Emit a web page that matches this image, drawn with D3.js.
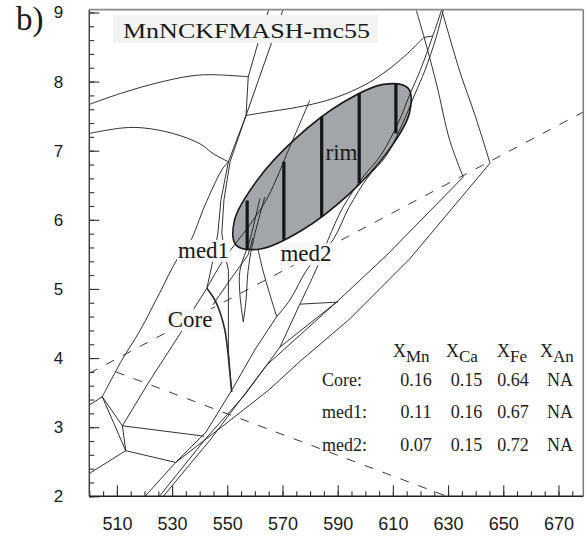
<!DOCTYPE html>
<html><head><meta charset="utf-8">
<script src="https://cdn.jsdelivr.net/npm/d3@7"></script>
<style>body{margin:0;background:#fff}svg{display:block}</style>
</head><body>
<svg id="c" width="588" height="539"></svg>
<script>
// ---- axis ticks ----
const xTicksMajor = [510,530,550,570,590,610,630,650,670];
const xTicksMinor = d3.range(500, 680, 5);
const yTicksMajor = [2,3,4,5,6,7,8,9];
const yTicksMinor = d3.range(2, 9.01, 0.2);

// ---- phase boundaries (T °C, P kbar) ----
const curveA = [[500,7.67],[512.2,7.84],[524.5,7.98],[536.5,8.08],[543.7,8.10],[557.6,8.07]];
const curveB = [[500,7.25],[512.2,7.33],[519.5,7.33],[530.3,7.25],[540.1,7.10],[544.8,6.96],[550.4,6.84]];
const curveC = [[556.8,7.51],[564.4,7.56],[572.7,7.61],[583.6,7.70],[592.7,7.82],[602.8,8.02],[612.6,8.31],[621.3,8.64]];
const lineD1 = [[565,9.04],[560.7,8.50],[557.6,8.07],[556.8,7.51],[550.4,6.84],[547.7,6.29],[546.6,5.81],[545.5,5.56],[544.3,5.32],[542.6,5.01],[538.3,4.74],[533.5,4.39],[522.0,3.68],[512.0,3.02]];
const lineD2 = [[570.2,9.04],[565.5,8.50],[556.8,7.51]];
const lineD3 = [[556.8,7.51],[551.0,6.84],[548.8,6.29],[548.0,5.81],[549.2,5.49],[550.4,5.27],[550.4,4.12],[551.0,3.80],[551.6,3.51]];
const lineF = [[550.4,6.84],[548.0,6.72],[541.9,6.21],[536.5,5.68],[531.7,5.42],[525.6,4.95],[518.4,4.40],[511.8,3.97],[504.7,3.44]];
const lowSeg1 = [[504.7,3.44],[500,3.32]];
const lowSeg2 = [[504.7,3.44],[512.0,3.02]];
const lowSeg3 = [[504.7,3.44],[513.2,2.66]];
const lowSeg4 = [[512.0,3.02],[513.2,2.66]];
const lowSeg5 = [[513.2,2.66],[500,2.33]];
const lowSeg6 = [[513.2,2.66],[531.3,2.49]];
const lowSeg7 = [[512.0,3.02],[541.6,2.87]];
const bund1 = [[567.9,4.60],[560.0,4.12],[551.7,3.54],[542.3,2.93],[531.3,2.49],[520.2,2.0]];
const bund2 = [[576.3,4.78],[569.1,4.16],[556.4,3.47],[542.3,2.84],[525.4,2.0]];
const bund3 = [[526.8,2.0],[543.7,2.81],[564.3,3.90],[589.6,4.81],[607.8,5.49],[635.5,6.62]];
const bund4 = [[531.3,2.49],[548.2,3.01],[565.1,3.54],[576.3,3.95],[594.5,4.57],[616.2,5.44],[645.2,6.82]];
const tie1 = [[576.3,4.78],[590.2,4.81]];
const tie2 = [[569.1,4.16],[589.6,4.81]];
const tang1 = [[627.7,9.04],[624.2,8.63],[619.9,8.16],[616.2,7.82],[611.9,7.40],[605.4,6.92],[599.2,6.62],[591.9,6.18],[586.5,5.71],[582.4,5.30],[576.3,4.78]];
const tang2 = [[628.3,9.04],[625.6,8.63],[621.6,8.16],[618.0,7.82],[613.6,7.40],[607.5,6.92],[601.0,6.62],[594.1,6.18],[588.3,5.71],[579.2,5.30],[572.7,4.84],[567.9,4.60]];
const lineLV = [[618.4,9.04],[621.6,8.60],[625.9,7.95],[630.6,7.15],[635.5,6.62]];
const lineRV = [[627.7,9.04],[634.3,8.14],[639.7,7.52],[645.2,6.82]];
const capSeg = [[621.3,8.64],[624.5,8.66]];
const dblCurve = [[542.6,5.01],[545.5,4.84],[547.3,4.67],[549.1,4.41],[550.2,4.09],[550.9,3.80],[551.6,3.51]];
const innerI3 = [[579.9,7.73],[572.7,7.06],[564.7,6.33],[558.2,5.93],[548.6,5.42],[542.6,5.01]];
const innerI4 = [[544.8,4.77],[551.0,5.13],[557.5,5.49],[559.3,5.74]];
const vLeft = [[561.8,6.31],[558.2,5.71],[554.6,5.27],[554.6,4.91],[555.8,4.52]];
const vRight = [[563.6,6.33],[559.3,5.68],[557.5,5.25],[556.8,4.84],[555.8,4.52]];
const mCurve = [[561.1,5.58],[562.9,5.27],[565.5,4.91],[567.9,4.60]];
const dash1 = [[500,3.78],[679,7.56]];
const dash2 = [[509.6,3.80],[629.6,2.0]];

// ---- rim ellipse & isopleth bars ----
const ellipsePts = [[615.5,7.905],[616.0,7.546],[608.0,6.979],[593.7,6.357],[576.9,5.845],[562.1,5.579],[553.2,5.634],[552.6,5.993],[560.6,6.560],[574.9,7.181],[591.7,7.693],[606.6,7.960]];
const rimBarT = [557.2,570.5,584.2,597.8,611.1];
const rimBarTop = [6.28,6.84,7.49,7.83,7.97];
const rimBarBot = [5.57,5.71,6.04,6.53,7.25];

// ---- labels ----
const labelText = ["med1","med2","Core","rim"];
const labelT = [541.4,578.5,536.5,591.4];
const labelP = [5.45,5.40,4.45,6.86];

// ---- table ----
const tableCols = ["Mn","Ca","Fe","An"];
const tableRows = ["Core:","med1:","med2:"];
const tableVals = [["0.16","0.15","0.64","NA"],["0.11","0.16","0.67","NA"],["0.07","0.15","0.72","NA"]];

const svg = d3.select("#c");
const x = d3.scaleLinear().domain([500,679]).range([89.3,583.3]);
const y = d3.scaleLinear().domain([2,9.04]).range([496.3,9.7]);
const serif = "'Liberation Serif','Times New Roman',serif";
const sans = "'Liberation Sans',Arial,sans-serif";

const defs = svg.append("defs");
defs.append("clipPath").attr("id","clip").append("rect")
  .attr("x",x(500)).attr("y",y(9.04)).attr("width",x(679)-x(500)).attr("height",y(2)-y(9.04));

const plot = svg.append("g").attr("clip-path","url(#clip)");
const line = d3.line().x(d=>x(d[0])).y(d=>y(d[1]));
const smooth = d3.line().x(d=>x(d[0])).y(d=>y(d[1])).curve(d3.curveCatmullRom.alpha(0.5));

// ellipse
plot.append("path").datum(ellipsePts)
  .attr("d", d3.line().x(d=>x(d[0])).y(d=>y(d[1])).curve(d3.curveCatmullRomClosed.alpha(0.5)))
  .attr("fill","#a2a5a9").attr("stroke","#1a1a1a").attr("stroke-width",1.6);

// dashed
[dash1,dash2].forEach(d=>plot.append("path").datum(d).attr("d",line)
  .attr("fill","none").attr("stroke","#222").attr("stroke-width",0.9).attr("stroke-dasharray","9,10"));

const smoothLines = [curveA,curveB,curveC,lineF,innerI3,vLeft,vRight,mCurve,lineLV,lineRV,tang1,tang2];
const straightLines = [lineD1,lineD2,lineD3,lowSeg1,lowSeg2,lowSeg3,lowSeg4,lowSeg5,lowSeg6,lowSeg7,bund1,bund2,bund3,bund4,tie1,tie2,capSeg,innerI4];
straightLines.forEach(d=>plot.append("path").datum(d).attr("d",line)
  .attr("fill","none").attr("stroke","#1c1c1c").attr("stroke-width",0.9));
smoothLines.forEach(d=>plot.append("path").datum(d).attr("d",smooth)
  .attr("fill","none").attr("stroke","#1c1c1c").attr("stroke-width",0.9));
// doubled boundary
plot.append("path").datum(dblCurve).attr("d",smooth)
  .attr("fill","none").attr("stroke","#2a2a2a").attr("stroke-width",1.6);

// rim bars
plot.selectAll(".bar").data(rimBarT).join("line")
  .attr("x1",d=>x(d)).attr("x2",d=>x(d))
  .attr("y1",(d,i)=>y(rimBarTop[i])).attr("y2",(d,i)=>y(rimBarBot[i]))
  .attr("stroke","#151515").attr("stroke-width",3.2);

// labels with boxes
labelText.forEach((t,i)=>{
  const g = svg.append("g");
  const tx = g.append("text").attr("x",x(labelT[i])).attr("y",y(labelP[i]))
    .attr("text-anchor","middle").attr("font-family",serif).attr("font-size",23)
    .attr("fill","#1a1a1a").text(t);
  if (t!=="rim") {
    const b = tx.node().getBBox();
    g.insert("rect","text").attr("x",b.x-1).attr("y",b.y+2).attr("width",b.width+2).attr("height",b.height-3)
      .attr("fill","#f7f8f7");
  }
});

// title
const tg = svg.append("g");
tg.append("rect").attr("x",113).attr("y",15).attr("width",265).attr("height",28).attr("fill","#f2f4f2");
tg.append("text").attr("x",123).attr("y",37.5).attr("font-family",serif).attr("font-size",22)
  .attr("textLength",247).attr("lengthAdjust","spacingAndGlyphs").attr("fill","#1a1a1a").text("MnNCKFMASH-mc55");

// panel letter
svg.append("text").attr("x",16).attr("y",30).attr("font-family",serif).attr("font-size",33).attr("fill","#1a1a1a").text("b)");

// table
const colX = [393,446,497,540];
const rowY = [385.5,418,451];
const valX = [416,466.5,513,560];
tableCols.forEach((c,i)=>{
  const t = svg.append("text").attr("x",colX[i]).attr("y",356.5).attr("font-family",serif).attr("font-size",18).attr("fill","#1a1a1a");
  t.append("tspan").text("X");
  t.append("tspan").attr("dy",5).attr("font-size",17).text(c);
});
tableRows.forEach((r,j)=>{
  svg.append("text").attr("x",322).attr("y",rowY[j]).attr("font-family",serif).attr("font-size",18).attr("fill","#222").text(r);
  tableVals[j].forEach((v,i)=>{
    svg.append("text").attr("x",valX[i]).attr("y",rowY[j]).attr("text-anchor","middle")
      .attr("font-family",serif).attr("font-size",18).attr("fill","#222").text(v);
  });
});

// axes
const axL1 = svg.append("g").attr("transform",`translate(${x(500)},0)`)
  .call(d3.axisLeft(y).tickValues(yTicksMinor).tickSize(-5).tickSizeOuter(0).tickFormat(""));
const axL2 = svg.append("g").attr("transform",`translate(${x(500)},0)`)
  .call(d3.axisLeft(y).tickValues(yTicksMajor).tickSize(-10).tickSizeOuter(0).tickPadding(26).tickFormat(d3.format("d")));
const axB1 = svg.append("g").attr("transform",`translate(0,${y(2)})`)
  .call(d3.axisBottom(x).tickValues(xTicksMinor).tickSize(-5).tickSizeOuter(0).tickFormat(""));
const axB2 = svg.append("g").attr("transform",`translate(0,${y(2)})`)
  .call(d3.axisBottom(x).tickValues(xTicksMajor).tickSize(-11).tickSizeOuter(0).tickPadding(21).tickFormat(d3.format("d")));
[axL1,axL2,axB1,axB2].forEach(a=>{
  a.select(".domain").remove();
  a.selectAll(".tick line").attr("stroke","#333").attr("stroke-width",1.1);
  a.selectAll("text").attr("font-family",sans).attr("fill","#1a1a1a");
});
axL2.selectAll("text").attr("font-size",17);
axB2.selectAll("text").attr("font-size",18);

// frame
svg.append("line").attr("x1",x(500)).attr("x2",x(679)).attr("y1",y(9.04)).attr("y2",y(9.04)).attr("stroke","#8a8a8a").attr("stroke-width",1.8);
svg.append("line").attr("x1",x(679)).attr("x2",x(679)).attr("y1",y(9.04)).attr("y2",y(2)).attr("stroke","#7a7a7a").attr("stroke-width",1.5);
svg.append("line").attr("x1",x(500)).attr("x2",x(500)).attr("y1",y(9.04)).attr("y2",y(2)).attr("stroke","#444").attr("stroke-width",1.5);
svg.append("line").attr("x1",x(500)).attr("x2",x(679)).attr("y1",y(2)).attr("y2",y(2)).attr("stroke","#222").attr("stroke-width",1.5);
</script>
</body></html>
